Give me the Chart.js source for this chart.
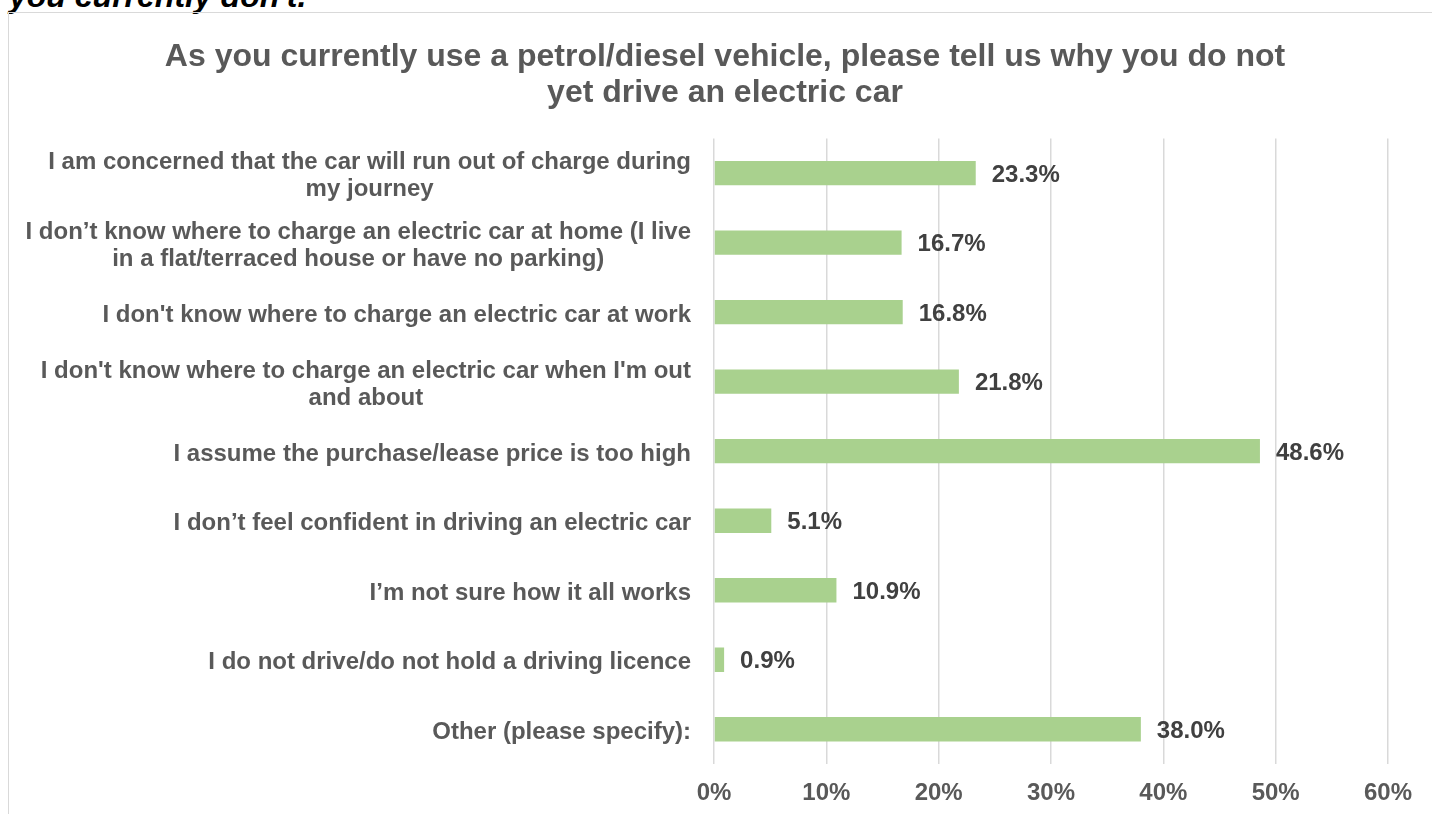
<!DOCTYPE html>
<html>
<head>
<meta charset="utf-8">
<script src="https://cdn.jsdelivr.net/npm/chart.js@4.4.1/dist/chart.umd.min.js"></script>
<style>
  html, body { margin: 0; padding: 0; background: #fff; overflow: hidden; }
  body { width: 1432px; height: 814px; position: relative; font-family: "Liberation Sans", Arial, sans-serif; }
  #note {
    position: absolute; left: 9px; top: -20px; margin: 0;
    font: italic bold 32px/32px "Liberation Sans", Arial, sans-serif; color: #000; white-space: nowrap;
  }
  #frame {
    position: absolute; left: 8px; top: 12px; width: 1440px; height: 820px;
    border: 1px solid #d9d9d9;
  }
  #chart { position: absolute; left: 0; top: 0; }
</style>
</head>
<body>
<div id="note">you currently don't.</div>
<div id="frame"><canvas id="chart" width="1423" height="801"></canvas></div>
<script>
// Categories (top to bottom)
const categories = [
  ["I am concerned that the car will run out of charge during", "my journey"],
  ["I don’t know where to charge an electric car at home (I live", "in a flat/terraced house or have no parking)"],
  "I don't know where to charge an electric car at work",
  ["I don't know where to charge an electric car when I'm out", "and about"],
  "I assume the purchase/lease price is too high",
  "I don’t feel confident in driving an electric car",
  "I’m not sure how it all works",
  "I do not drive/do not hold a driving licence",
  "Other (please specify):",
];

// Share of respondents, percent
const shares = [23.3, 16.7, 16.8, 21.8, 48.6, 5.1, 10.9, 0.9, 38.0];

// X axis ticks, percent
const xTicks = [0, 10, 20, 30, 40, 50, 60];

const titleLines = [
  "As you currently use a petrol/diesel vehicle, please tell us why you do not",
  "yet drive an electric car",
];

const FONT = '"Liberation Sans", Arial, sans-serif';

// Draws the wrapped category labels (each block right aligned, lines centred)
const categoryLabels = {
  id: "categoryLabels",
  afterDraw(chart) {
    const ctx = chart.ctx;
    const yScale = chart.scales.y;
    const right = chart.chartArea.left - 23;
    const lh = 27;
    ctx.save();
    ctx.font = "bold 24px " + FONT;
    ctx.fillStyle = "#595959";
    ctx.textBaseline = "middle";
    ctx.textAlign = "center";
    categories.forEach((label, i) => {
      const lines = Array.isArray(label) ? label : [label];
      const w = Math.max(...lines.map((l) => ctx.measureText(l).width));
      const cx = right - w / 2;
      const y0 = yScale.getPixelForValue(i);
      lines.forEach((line, j) => {
        ctx.fillText(line, cx, y0 + 3 + (j - (lines.length - 1) / 2) * lh);
      });
    });
    ctx.restore();
  },
};

// Value labels at the end of each bar
const valueLabels = {
  id: "valueLabels",
  afterDatasetsDraw(chart) {
    const ctx = chart.ctx;
    const meta = chart.getDatasetMeta(0);
    ctx.save();
    ctx.font = "bold 24px " + FONT;
    ctx.fillStyle = "#404040";
    ctx.textBaseline = "middle";
    ctx.textAlign = "left";
    meta.data.forEach((bar, i) => {
      ctx.fillText(shares[i].toFixed(1) + "%", bar.x + 16, bar.y + 2);
    });
    ctx.restore();
  },
};

const ctx = document.getElementById("chart").getContext("2d");

const myChart = new Chart(ctx, {
  type: "bar",
  data: {
    labels: categories.map((c) => (Array.isArray(c) ? c.join(" ") : c)),
    datasets: [
      {
        data: shares,
        backgroundColor: "#a9d18e",
        borderWidth: 0,
        categoryPercentage: 0.35,
        barPercentage: 1,
      },
    ],
  },
  options: {
    indexAxis: "y",
    responsive: false,
    animation: false,
    layout: {
      padding: { left: 53, right: 44, top: 0, bottom: 0 },
    },
    plugins: {
      legend: { display: false },
      tooltip: { enabled: false },
      title: {
        display: true,
        text: titleLines,
        color: "#595959",
        font: { family: FONT, size: 32, weight: "bold", lineHeight: 1.1 },
        padding: { top: 27, bottom: 28 },
      },
    },
    scales: {
      x: {
        min: xTicks[0],
        max: xTicks[xTicks.length - 1],
        afterBuildTicks: (scale) => {
          scale.ticks = xTicks.map((v) => ({ value: v }));
        },
        afterFit: (scale) => {
          scale.height = 50;
        },
        ticks: {
          color: "#595959",
          font: { family: FONT, size: 24, weight: "bold" },
          padding: 15,
          callback: (v) => v + "%",
        },
        grid: {
          color: "#d9d9d9",
          lineWidth: 1.5,
          drawTicks: false,
        },
        border: { display: false },
      },
      y: {
        afterFit: (scale) => {
          scale.width = 652;
        },
        ticks: { display: false },
        grid: { display: false },
        border: { display: false },
      },
    },
  },
  plugins: [categoryLabels, valueLabels],
});
</script>
</body>
</html>
